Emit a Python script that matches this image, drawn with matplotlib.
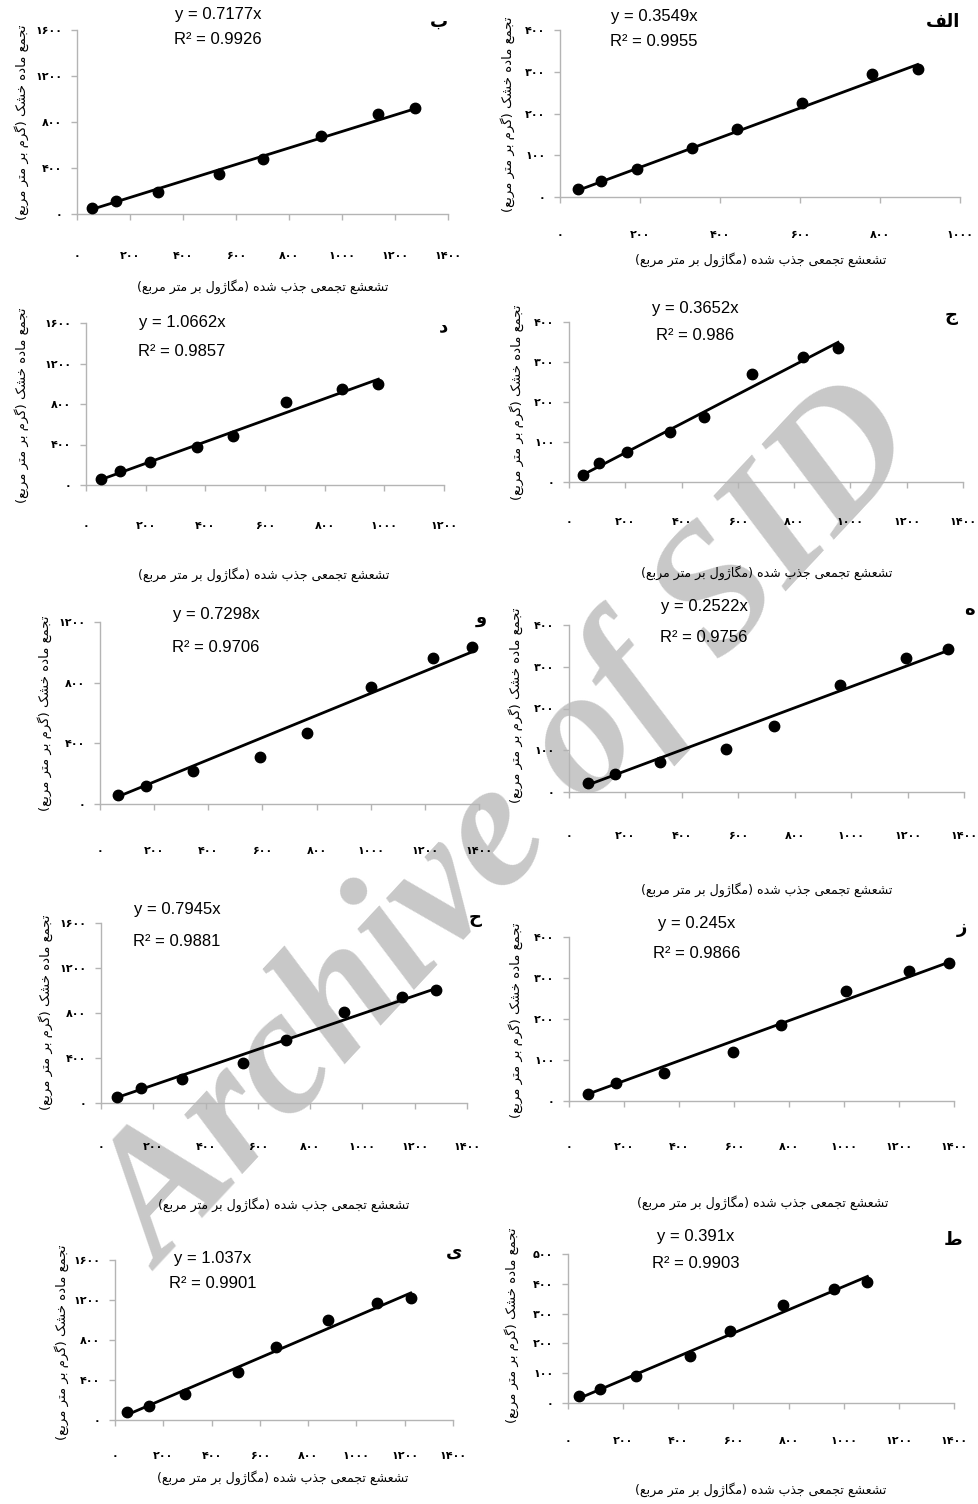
import matplotlib
matplotlib.use("Agg")
import matplotlib.pyplot as plt
from matplotlib.ticker import MultipleLocator, FuncFormatter

# panel order: الف, ب, ج, د, ه, و, ز, ح, ط, ی
panel_labels = ["الف", "ب", "ج", "د", "ه", "و", "ز", "ح", "ط", "ی"]

alef_x = [44, 103, 192, 331, 442, 604, 779, 894]
alef_y = [18, 38, 68, 117, 163, 224, 294, 306]
be_x = [57, 149, 306, 534, 701, 920, 1135, 1276]
be_y = [52, 113, 191, 347, 480, 674, 868, 920]
jim_x = [51, 108, 205, 359, 480, 652, 832, 956]
jim_y = [17, 48, 74, 124, 163, 269, 313, 335]
dal_x = [49, 114, 216, 371, 494, 669, 857, 980]
dal_y = [59, 139, 228, 373, 488, 818, 944, 1000]
he_x = [67, 164, 321, 555, 728, 961, 1195, 1342]
he_y = [22, 44, 72, 103, 158, 256, 321, 342]
vav_x = [68, 170, 342, 591, 766, 1000, 1229, 1373]
vav_y = [61, 120, 219, 309, 466, 769, 963, 1036]
ze_x = [69, 172, 344, 596, 772, 1006, 1235, 1382]
ze_y = [18, 45, 68, 120, 185, 268, 316, 337]
hah_x = [63, 152, 311, 545, 708, 928, 1151, 1283]
hah_y = [54, 137, 214, 357, 559, 812, 946, 1005]
ta_x = [41, 116, 245, 442, 587, 778, 965, 1086]
ta_y = [22, 46, 91, 158, 243, 330, 384, 406]
ye_x = [51, 141, 290, 509, 668, 882, 1087, 1225]
ye_y = [77, 143, 263, 483, 733, 1000, 1167, 1217]

slopes = [0.3549, 0.7177, 0.3652, 1.0662, 0.2522, 0.7298, 0.245, 0.7945, 0.391, 1.037]
r_squared = [0.9955, 0.9926, 0.986, 0.9857, 0.9756, 0.9706, 0.9866, 0.9881, 0.9903, 0.9901]

x_max = [1000, 1400, 1400, 1200, 1400, 1400, 1400, 1400, 1400, 1400]
y_max = [400, 1600, 400, 1600, 400, 1200, 400, 1600, 500, 1600]
y_step = [100, 400, 100, 400, 100, 400, 100, 400, 100, 400]

y_title = "تجمع ماده خشک (گرم بر متر مربع)"
x_title = "تشعشع تجمعی جذب شده (مگاژول بر متر مربع)"

xs = [alef_x, be_x, jim_x, dal_x, he_x, vav_x, ze_x, hah_x, ta_x, ye_x]
ys = [alef_y, be_y, jim_y, dal_y, he_y, vav_y, ze_y, hah_y, ta_y, ye_y]

# layout in pixels: axes (left, top, right, bottom), equation centre x, eq y, r2 y,
# panel letter (x, y), y title (x, y), x title (x, y) or None, x tick label y
layout = [
    ((560, 30, 960, 197), 654, 17, 42, (960, 22), (508, 114), (761, 260), 236),
    ((77, 30, 448, 214), 218, 14, 39, (448, 22), (22, 122), (263, 287), 257),
    ((569, 322, 963, 482), 695, 308, 335, (958, 316), (517, 402), (767, 573), 523),
    ((86, 323, 444, 485), 182, 323, 351, (448, 326), (22, 405), (264, 575), 527),
    ((569, 625, 964, 792), 704, 607, 637, (975, 610), (516, 705), (767, 890), 837),
    ((100, 622, 479, 804), 216, 615, 647, (487, 618), (45, 713), None, 852),
    ((569, 937, 954, 1101), 697, 923, 953, (967, 928), (516, 1020), (763, 1203), 1148),
    ((101, 923, 467, 1103), 177, 910, 942, (482, 918), (46, 1012), (284, 1205), 1148),
    ((568, 1254, 954, 1403), 696, 1237, 1263, (962, 1240), (512, 1325), (761, 1490), 1442),
    ((115, 1260, 453, 1420), 213, 1258, 1283, (462, 1252), (62, 1342), (283, 1478), 1457),
]

# Arabic presentation forms: isolated, final, initial, medial
FORMS = {
    "ا": ("\uFE8D", "\uFE8E", None, None),
    "ب": ("\uFE8F", "\uFE90", "\uFE91", "\uFE92"),
    "ت": ("\uFE95", "\uFE96", "\uFE97", "\uFE98"),
    "ج": ("\uFE9D", "\uFE9E", "\uFE9F", "\uFEA0"),
    "ح": ("\uFEA1", "\uFEA2", "\uFEA3", "\uFEA4"),
    "خ": ("\uFEA5", "\uFEA6", "\uFEA7", "\uFEA8"),
    "د": ("\uFEA9", "\uFEAA", None, None),
    "ذ": ("\uFEAB", "\uFEAC", None, None),
    "ر": ("\uFEAD", "\uFEAE", None, None),
    "ز": ("\uFEAF", "\uFEB0", None, None),
    "ژ": ("\uFB8A", "\uFB8B", None, None),
    "ش": ("\uFEB5", "\uFEB6", "\uFEB7", "\uFEB8"),
    "ط": ("\uFEC1", "\uFEC2", "\uFEC3", "\uFEC4"),
    "ع": ("\uFEC9", "\uFECA", "\uFECB", "\uFECC"),
    "ف": ("\uFED1", "\uFED2", "\uFED3", "\uFED4"),
    "ک": ("\uFB8E", "\uFB8F", "\uFB90", "\uFB91"),
    "گ": ("\uFB92", "\uFB93", "\uFB94", "\uFB95"),
    "ل": ("\uFEDD", "\uFEDE", "\uFEDF", "\uFEE0"),
    "م": ("\uFEE1", "\uFEE2", "\uFEE3", "\uFEE4"),
    "ه": ("\uFEE9", "\uFEEA", "\uFEEB", "\uFEEC"),
    "و": ("\uFEED", "\uFEEE", None, None),
    "ی": ("\uFBFC", "\uFBFD", "\uFBFE", "\uFBFF"),
}


def fa(text):
    # shape letters and put them in visual (left to right) order
    out = []
    for i, c in enumerate(text):
        if c not in FORMS:
            out.append(c)
            continue
        prev = text[i - 1] if i > 0 else ""
        nxt = text[i + 1] if i + 1 < len(text) else ""
        jp = prev in FORMS and FORMS[prev][2] is not None
        jn = FORMS[c][2] is not None and nxt in FORMS
        iso, fin, ini, med = FORMS[c]
        if jp and jn:
            out.append(med)
        elif jp:
            out.append(fin)
        elif jn:
            out.append(ini)
        else:
            out.append(iso)
    vis = "".join(out)[::-1]
    return vis.translate(str.maketrans("()", ")("))


def fa_num(v, pos=None):
    return str(int(round(v))).translate(str.maketrans("0123456789", "۰۱۲۳۴۵۶۷۸۹"))


W, H = 979, 1504
fig = plt.figure(figsize=(W / 100, H / 100), dpi=100)

# watermark behind the panels
fig.text(512 / W, 1 - 830 / H, "Archive of SID", rotation=47, fontsize=130,
         family="Liberation Serif", weight="bold", style="italic", color="#c8c8c8",
         ha="center", va="center", zorder=-5)

gray = "#b4b4b4"
for i in range(10):
    (l, t, r, b), eqx, eqy, r2y, (lx, ly), (ytx, yty), xt, tly = layout[i]
    ax = fig.add_axes([l / W, 1 - b / H, (r - l) / W, (b - t) / H])
    ax.set_facecolor("none")
    x = xs[i]
    y = ys[i]
    ax.plot(x, y, "o", color="black", markersize=7.5, zorder=3, clip_on=False)
    lx0, lx1 = min(x), max(x)
    ax.plot([lx0, lx1], [slopes[i] * lx0, slopes[i] * lx1], "-", color="black",
            linewidth=2, zorder=2, clip_on=False)
    ax.set_xlim(0, x_max[i])
    ax.set_ylim(0, y_max[i])
    ax.xaxis.set_major_locator(MultipleLocator(200))
    ax.yaxis.set_major_locator(MultipleLocator(y_step[i]))
    ax.xaxis.set_major_formatter(FuncFormatter(fa_num))
    ax.yaxis.set_major_formatter(FuncFormatter(fa_num))
    for s in ["top", "right"]:
        ax.spines[s].set_visible(False)
    for s in ["left", "bottom"]:
        ax.spines[s].set_color(gray)
        ax.spines[s].set_linewidth(1)
    xpad = (tly - b - 6 - 6) * 0.72
    ax.tick_params(axis="x", direction="out", length=4.5, width=1, color=gray,
                   pad=xpad, labelsize=8)
    ax.tick_params(axis="y", direction="out", length=4.5, width=1, color=gray,
                   pad=6, labelsize=8)
    for lab in ax.get_xticklabels() + ax.get_yticklabels():
        lab.set_family("DejaVu Sans")
        lab.set_weight("bold")

    fig.text(eqx / W, 1 - eqy / H, "y = %sx" % slopes[i], ha="center", va="center",
             fontsize=12, family="Liberation Sans")
    fig.text(eqx / W, 1 - r2y / H, "R² = %s" % r_squared[i], ha="center", va="center",
             fontsize=12, family="Liberation Sans")
    fig.text(lx / W, 1 - ly / H, fa(panel_labels[i]), ha="right", va="center",
             fontsize=13, weight="bold", family="DejaVu Sans")
    fig.text(ytx / W, 1 - yty / H, fa(y_title), rotation=90, ha="center", va="center",
             fontsize=9.5, family="DejaVu Sans")
    if xt is not None:
        fig.text(xt[0] / W, 1 - xt[1] / H, fa(x_title), ha="center", va="center",
                 fontsize=9, family="DejaVu Sans")

fig.savefig("out.png", dpi=100, facecolor="white")
